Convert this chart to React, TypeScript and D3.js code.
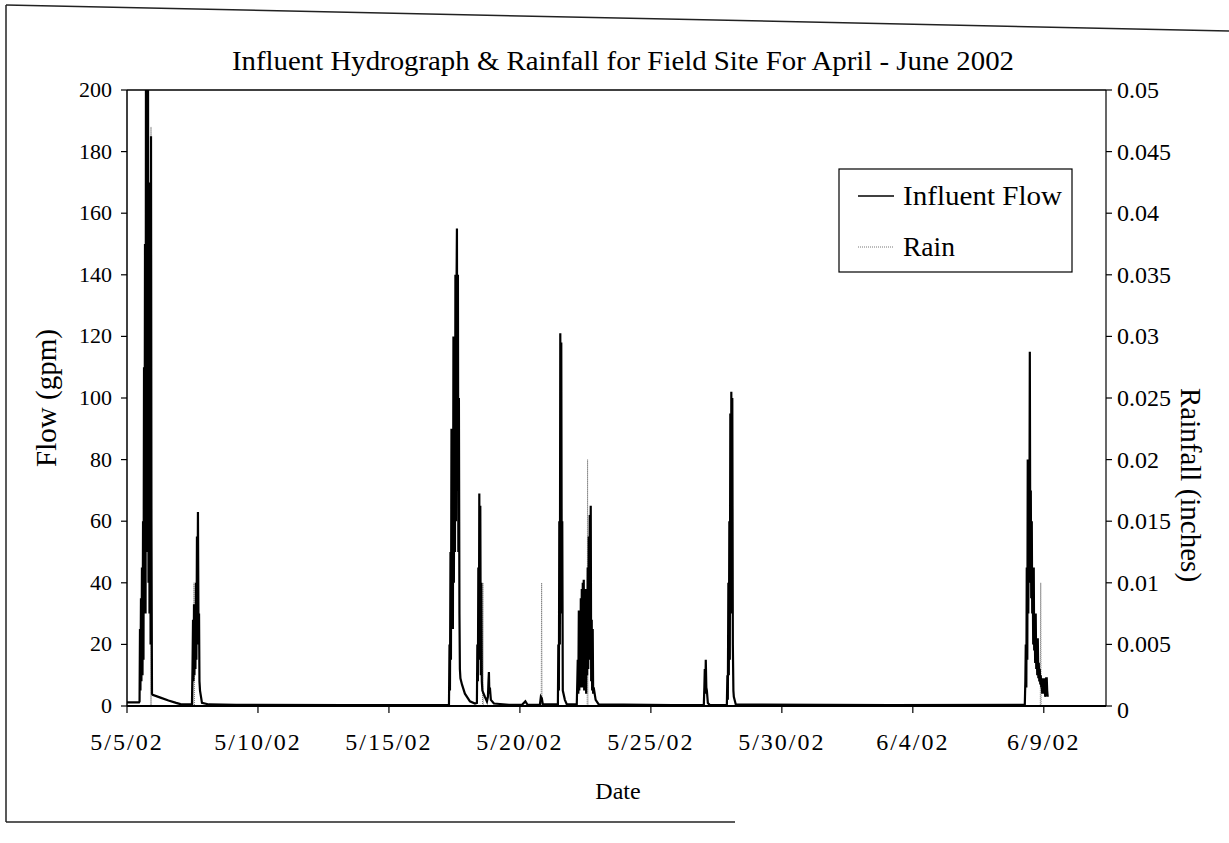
import React from "react";
import * as d3 from "d3";

// ---------- DATA : [hours after 5/5/02 00:00, value] ----------
const flowEvent1: [number, number][] = [
  [0, 1.2], [11.0, 1.2], [11.5, 1.5], [11.9, 25], [12.3, 5], [12.8, 35], [13.2, 8], [13.7, 45],
  [14.2, 10], [14.7, 60], [15.1, 15], [15.6, 110], [16.0, 40], [16.5, 150], [17.0, 30],
  [17.4, 220], [17.9, 50], [18.3, 210], [18.8, 60], [19.2, 230], [19.7, 40], [20.2, 170],
  [20.6, 30], [21.1, 160], [21.6, 20], [22.0, 185], [22.4, 60], [22.9, 4],
  [23.5, 3.6], [30, 2.8], [38, 1.8], [45, 1.0], [49, 0.6], [56, 0.5],
];
const flowEvent2: [number, number][] = [
  [59.5, 0.5], [60.0, 12], [60.5, 28], [60.9, 8], [61.4, 33], [61.8, 10], [62.3, 30], [62.7, 12],
  [63.2, 40], [63.6, 15], [64.1, 55], [64.5, 20], [65.0, 63], [65.5, 25], [66.0, 30], [66.4, 8],
  [66.9, 5], [68.7, 1.0], [75, 0.5], [100, 0.4], [200, 0.3], [295, 0.3],
];
const flowEvent3: [number, number][] = [
  [295.5, 20], [295.9, 5], [296.4, 50], [296.8, 15], [297.3, 90], [297.7, 30], [298.2, 80],
  [298.6, 25], [299.1, 120], [299.5, 40], [300.0, 100], [300.5, 50], [300.9, 140], [301.4, 60],
  [301.8, 130], [302.3, 155], [302.7, 70], [303.2, 140], [303.6, 50], [304.1, 100], [304.6, 30],
  [305.0, 12], [305.5, 9], [306.9, 7], [309.6, 4], [314.2, 1.5], [318.8, 0.8],
];
const flowEvent4: [number, number][] = [
  [320.6, 1], [321.0, 20], [321.5, 8], [321.9, 45], [322.4, 15], [322.8, 69], [323.3, 20],
  [323.7, 65], [324.2, 10], [324.6, 40], [325.1, 8], [325.6, 5], [327.9, 3], [329.8, 1.5],
  [330.7, 3], [331.2, 8], [331.6, 11], [332.0, 4], [332.5, 6], [333.4, 2], [336.2, 0.8], [350, 0.4],
  [362, 0.4], [365, 1.5], [367, 0.4], [378.3, 0.4], [379.2, 3], [380.1, 2.5], [381.0, 0.5],
];
const flowEvent5: [number, number][] = [
  [394.8, 0.5], [395.2, 20], [395.7, 5], [396.1, 60], [396.6, 20], [397.0, 121], [397.5, 40],
  [397.9, 118], [398.4, 30], [398.8, 60], [399.3, 5], [401.2, 2], [403.0, 0.5],
  [412.1, 0.5], [412.6, 8], [413.0, 15], [413.5, 4], [414.0, 31], [414.4, 5], [414.9, 25],
  [415.4, 6], [415.8, 35], [416.2, 8], [416.7, 38], [417.1, 6], [417.6, 40], [418.0, 10],
  [418.5, 41], [418.9, 5], [419.4, 38], [419.8, 8], [420.3, 35], [420.7, 4], [421.2, 38],
  [421.6, 10], [422.1, 45], [422.6, 12], [423.1, 55], [423.5, 15], [424.0, 62], [424.4, 20],
  [424.9, 65], [425.3, 8], [425.8, 28], [426.2, 5], [426.7, 25], [427.1, 4], [427.6, 6],
  [429.4, 2], [432.2, 0.5], [500, 0.3],
];
const flowEvent6: [number, number][] = [
  [528.5, 0.3], [529.0, 6], [529.4, 12], [529.9, 4], [530.3, 15], [530.8, 6], [531.3, 5],
  [532.2, 1], [534.0, 0.3],
  [549.6, 0.3], [550.1, 10], [550.5, 2], [551.0, 40], [551.4, 10], [551.9, 60], [552.3, 15],
  [552.8, 95], [553.3, 30], [553.7, 102], [554.2, 40], [554.6, 100], [555.1, 20], [555.6, 5],
  [556.0, 3], [557.8, 0.5], [700, 0.3], [822.6, 0.4],
];
const flowEvent7: [number, number][] = [
  [823.1, 8], [823.5, 20], [824.0, 6], [824.4, 45], [824.9, 15], [825.3, 80], [825.8, 30],
  [826.2, 60], [826.7, 40], [827.2, 115], [827.6, 50], [828.1, 70], [828.5, 35], [829.0, 60],
  [829.4, 30], [829.9, 40], [830.3, 20], [830.8, 45], [831.2, 18], [831.7, 25], [832.1, 14],
  [832.6, 30], [833.1, 12], [833.6, 18], [834.0, 10], [834.5, 22], [835.0, 9], [835.4, 14],
  [835.9, 8], [836.3, 12], [836.8, 7], [837.2, 10], [837.7, 6], [838.1, 7], [838.6, 4],
  [839.0, 9], [839.5, 4], [839.9, 5], [840.4, 9], [840.8, 8], [841.3, 3], [841.8, 4],
  [842.2, 9], [842.7, 9], [843.1, 5], [843.6, 3],
];

const rainData: [number, number][] = [
  [0, 0], [21.5, 0], [22.0, 0.047], [22.5, 0],
  [61.0, 0], [61.4, 0.01], [61.8, 0],
  [325.7, 0], [326.1, 0.01], [326.5, 0],
  [379.5, 0], [379.9, 0.01], [380.3, 0],
  [421.6, 0], [422.0, 0.02], [422.4, 0],
  [836.8, 0], [837.2, 0.01], [837.6, 0], [843.6, 0],
];

const flowTicks = [0, 20, 40, 60, 80, 100, 120, 140, 160, 180, 200];
const rainTicks = [0, 0.005, 0.01, 0.015, 0.02, 0.025, 0.03, 0.035, 0.04, 0.045, 0.05];
const dateTickDays = [0, 5, 10, 15, 20, 25, 30, 35];

const TITLE = "Influent Hydrograph & Rainfall for Field Site For April - June 2002";
const FONT = "'Liberation Serif', 'Times New Roman', serif";

export default function App() {
  const W = 1229, H = 843;
  const left = 127, right = 1106, top = 90, bottom = 706;
  const start = new Date(2002, 4, 5);
  const end = d3.timeHour.offset(start, 897);
  const x = d3.scaleTime().domain([start, end]).range([left, right]);
  const yF = d3.scaleLinear().domain([0, 200]).range([bottom, top]);
  const yR = d3.scaleLinear().domain([0, 0.05]).range([bottom, top]);
  const t = (h: number) => new Date(start.getTime() + h * 3600 * 1000);
  const fmt = d3.timeFormat("%-m/%-d/%y");

  const flowData = [
    ...flowEvent1, ...flowEvent2, ...flowEvent3, ...flowEvent4,
    ...flowEvent5, ...flowEvent6, ...flowEvent7,
  ];
  const flowLine = d3.line<[number, number]>().x((d) => x(t(d[0]))).y((d) => yF(d[1]));
  const rainLine = d3.line<[number, number]>().x((d) => x(t(d[0]))).y((d) => yR(d[1]));

  return (
    <svg width={W} height={H} style={{ display: "block", position: "absolute", left: 0, top: 0, background: "#fff" }}>
      <defs>
        <clipPath id="plotclip">
          <rect x={left} y={top} width={right - left} height={bottom - top + 2} />
        </clipPath>
      </defs>
      <rect x={0} y={0} width={W} height={H} fill="#fff" />
      {/* outer frame (scanned) */}
      <line x1={6} y1={5} x2={1229} y2={31} stroke="#222" strokeWidth={1.5} />
      <line x1={6} y1={5} x2={6} y2={822} stroke="#222" strokeWidth={1.5} />
      <line x1={6} y1={822} x2={735} y2={822} stroke="#222" strokeWidth={1.5} />

      <text x={623} y={70} textAnchor="middle" fontFamily={FONT} fontSize={28}
        textLength={782} lengthAdjust="spacingAndGlyphs">{TITLE}</text>

      {/* series */}
      <g clipPath="url(#plotclip)">
        <path d={rainLine(rainData) || ""} fill="none" stroke="#777" strokeWidth={1} strokeDasharray="1,1" />
        <path d={flowLine(flowData) || ""} fill="none" stroke="#000" strokeWidth={2.2} strokeLinejoin="miter" />
      </g>

      {/* plot frame */}
      <line x1={left} y1={top} x2={right} y2={top} stroke="#000" strokeWidth={1.5} />
      <line x1={left} y1={top} x2={left} y2={bottom} stroke="#000" strokeWidth={1.5} />
      <line x1={right} y1={top} x2={right} y2={bottom} stroke="#000" strokeWidth={1.2} />
      <line x1={left} y1={bottom} x2={right} y2={bottom} stroke="#000" strokeWidth={1.8} />

      {/* left axis */}
      {flowTicks.map((v) => (
        <g key={"f" + v}>
          <line x1={left - 6} x2={left} y1={yF(v)} y2={yF(v)} stroke="#000" strokeWidth={1.2} />
          <text x={112} y={yF(v) + 7} textAnchor="end" fontFamily={FONT} fontSize={22}>{v}</text>
        </g>
      ))}
      {/* right axis */}
      {rainTicks.map((v) => (
        <g key={"r" + v}>
          <line x1={right} x2={right + 6} y1={yR(v)} y2={yR(v)} stroke="#000" strokeWidth={1.2} />
          <text x={1117} y={yR(v) + 8 + (v === 0 ? 4 : 0)} textAnchor="start" fontFamily={FONT} fontSize={24}>{String(v)}</text>
        </g>
      ))}
      {/* bottom axis */}
      {dateTickDays.map((d) => {
        const dt = d3.timeDay.offset(start, d);
        return (
          <g key={"d" + d}>
            <line x1={x(dt)} x2={x(dt)} y1={bottom} y2={bottom + 7} stroke="#000" strokeWidth={1.2} />
            <text x={x(dt)} y={750} textAnchor="middle" fontFamily={FONT} fontSize={24} letterSpacing={2}>{fmt(dt)}</text>
          </g>
        );
      })}

      <text x={618} y={799} textAnchor="middle" fontFamily={FONT} fontSize={24}>Date</text>
      <text transform={`translate(56,398) rotate(-90)`} textAnchor="middle" fontFamily={FONT} fontSize={29}>Flow (gpm)</text>
      <text transform={`translate(1181,485) rotate(90)`} textAnchor="middle" fontFamily={FONT} fontSize={29}>Rainfall (inches)</text>

      {/* legend */}
      <rect x={839} y={169} width={233} height={103} fill="#fff" stroke="#000" strokeWidth={1.2} />
      <line x1={858} x2={894} y1={196} y2={196} stroke="#000" strokeWidth={1.6} />
      <text x={903} y={205} fontFamily={FONT} fontSize={27} textLength={159} lengthAdjust="spacingAndGlyphs">Influent Flow</text>
      <line x1={858} x2={894} y1={247} y2={247} stroke="#777" strokeWidth={1} strokeDasharray="1,1" />
      <text x={903} y={256} fontFamily={FONT} fontSize={27} textLength={52} lengthAdjust="spacingAndGlyphs">Rain</text>
    </svg>
  );
}
